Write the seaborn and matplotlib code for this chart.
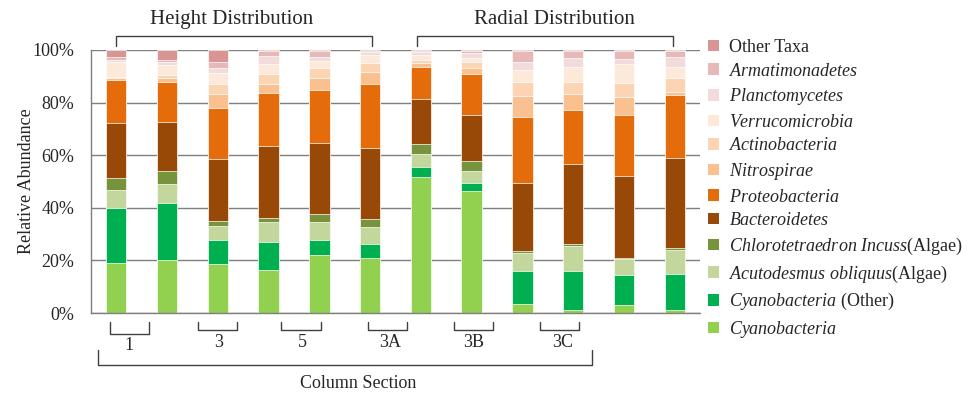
import pandas as pd
import matplotlib.pyplot as plt
import seaborn as sns
from matplotlib.patches import Patch
from matplotlib.transforms import blended_transform_factory

# sample order (two replicate bars per column section)
samples = ['1a', '1b', '3a', '3b', '5a', '5b', '3Aa', '3Ab', '3Ba', '3Bb', '3Ca', '3Cb']
sections = ['1', '3', '5', '3A', '3B', '3C']

# relative abundance (%) per taxon, bottom layer first
cyanobacteria = [19.2, 20.3, 18.7, 16.3, 21.9, 20.8, 51.9, 46.2, 3.5, 1.3, 3.0, 1.0]
cyano_other = [20.8, 21.7, 9.0, 10.7, 5.8, 5.5, 3.7, 3.4, 12.6, 14.6, 11.4, 13.8]
acutodesmus = [6.7, 7.1, 5.5, 7.6, 6.9, 6.5, 4.9, 4.5, 6.6, 9.5, 6.1, 9.1]
chlorotetraedron = [4.8, 5.0, 1.9, 1.7, 3.2, 3.0, 3.9, 3.6, 0.8, 0.9, 0.6, 0.7]
bacteroidetes = [20.9, 18.6, 23.4, 27.2, 27.0, 27.1, 16.9, 17.4, 25.9, 30.4, 31.1, 34.4]
proteobacteria = [16.2, 15.3, 19.3, 20.2, 20.1, 24.1, 12.4, 15.8, 25.0, 20.5, 23.1, 23.7]
nitrospirae = [0.6, 1.2, 5.4, 3.4, 4.3, 4.8, 1.3, 2.1, 8.0, 6.1, 6.7, 1.5]
actinobacteria = [0.7, 1.3, 3.8, 3.7, 3.8, 3.1, 1.2, 2.6, 5.3, 4.7, 5.3, 5.0]
verrucomicrobia = [5.4, 3.8, 4.1, 3.9, 2.9, 3.2, 1.9, 1.2, 4.7, 5.7, 7.3, 4.5]
planctomycetes = [0.9, 1.0, 2.2, 3.0, 1.6, 1.3, 1.0, 1.9, 2.9, 3.1, 2.0, 3.5]
armatimonadetes = [1.0, 0.9, 2.3, 1.8, 2.0, 0.3, 0.5, 1.0, 4.4, 2.9, 3.1, 2.5]
other_taxa = [2.8, 3.8, 4.4, 0.5, 0.5, 0.3, 0.4, 0.3, 0.3, 0.3, 0.3, 0.3]

taxa = ['Cyanobacteria', 'Cyanobacteria (Other)', 'Acutodesmus obliquus', 'Chlorotetraedron Incuss',
        'Bacteroidetes', 'Proteobacteria', 'Nitrospirae', 'Actinobacteria', 'Verrucomicrobia',
        'Planctomycetes', 'Armatimonadetes', 'Other Taxa']
values = [cyanobacteria, cyano_other, acutodesmus, chlorotetraedron, bacteroidetes, proteobacteria,
          nitrospirae, actinobacteria, verrucomicrobia, planctomycetes, armatimonadetes, other_taxa]
colors = ['#92d050', '#00b050', '#c3d69b', '#77933c', '#984807', '#e46c0a',
          '#fac090', '#fbd4b4', '#fde9d9', '#f2dcdb', '#e6b9b8', '#d99594']
labels = [r'$\mathit{Cyanobacteria}$', r'$\mathit{Cyanobacteria}$ (Other)',
          r'$\mathit{Acutodesmus\ obliquus}$(Algae)', r'$\mathit{Chlorotetraedron\ Incuss}$(Algae)',
          r'$\mathit{Bacteroidetes}$', r'$\mathit{Proteobacteria}$', r'$\mathit{Nitrospirae}$',
          r'$\mathit{Actinobacteria}$', r'$\mathit{Verrucomicrobia}$', r'$\mathit{Planctomycetes}$',
          r'$\mathit{Armatimonadetes}$', 'Other Taxa']

# long table with cumulative heights for stacking
df = pd.DataFrame(dict(zip(taxa, values)), index=samples)
cum = df.cumsum(axis=1)
long = cum.reset_index(names='sample').melt(id_vars='sample', var_name='taxon', value_name='top')

sns.set_style('white')
plt.rcParams['font.family'] = ['Liberation Serif', 'DejaVu Serif']
plt.rcParams['mathtext.fontset'] = 'custom'
plt.rcParams['mathtext.rm'] = 'Liberation Serif'
plt.rcParams['mathtext.it'] = 'Liberation Serif:italic'

fig = plt.figure(figsize=(9.75, 4), dpi=100)
ax = fig.add_axes([0.0933, 0.2175, 0.6247, 0.6575])

# draw from the top layer down so each shorter bar covers the one behind
for taxon, color in zip(taxa[::-1], colors[::-1]):
    sns.barplot(data=long[long['taxon'] == taxon], x='sample', y='top', order=samples,
                color=color, saturation=1, width=0.4, edgecolor='white', linewidth=0.5, ax=ax)

ax.set_ylim(0, 100)
ax.set_xlim(-0.5, 11.5)
ax.set_yticks([0, 20, 40, 60, 80, 100])
ax.set_yticklabels([f'{v}%' for v in [0, 20, 40, 60, 80, 100]], fontsize=13)
ax.set_xticks([])
ax.set_xlabel('')
ax.set_ylabel('Relative Abundance', fontsize=13, labelpad=-2)
ax.tick_params(axis='y', length=0, pad=12)
ax.yaxis.grid(True, color='#7f7f7f', linewidth=1)
ax.set_axisbelow(True)
for s in ['top', 'right']:
    ax.spines[s].set_visible(False)
for s in ['left', 'bottom']:
    ax.spines[s].set_color('#7f7f7f')
    ax.spines[s].set_linewidth(1)

tr = blended_transform_factory(ax.transData, ax.transAxes)
lc = '#404040'

def bracket(x0, x1, y_end, y_bar):
    ax.plot([x0, x0, x1, x1], [y_end, y_bar, y_bar, y_end], color=lc, lw=1,
            transform=tr, clip_on=False)

# section brackets under the bars
sec_spans = [(-0.13, 0.64), (1.61, 2.38), (3.24, 4.03), (4.96, 5.73), (6.65, 7.42), (8.35, 9.12)]
sec_label_x = [0.25, 2.02, 3.66, 5.39, 7.03, 8.80]
for i, ((x0, x1), lx, name) in enumerate(zip(sec_spans, sec_label_x, sections)):
    bracket(x0, x1, -0.034, -0.08 if i == 0 else -0.065)
    ax.text(lx, -0.125 if i == 0 else -0.112, name, transform=tr, ha='center', va='center', fontsize=13)

bracket(-0.36, 9.37, -0.141, -0.198)
ax.text(4.76, -0.268, 'Column Section', transform=tr, ha='center', va='center', fontsize=13)

# distribution brackets on top
bracket(0, 5.04, 1.015, 1.053)
bracket(5.92, 10.97, 1.015, 1.053)
ax.text(2.28, 1.116, 'Height Distribution', transform=tr, ha='center', va='center', fontsize=15)
ax.text(8.64, 1.116, 'Radial Distribution', transform=tr, ha='center', va='center', fontsize=15)

handles = [Patch(facecolor=c, edgecolor='none') for c in colors[::-1]]
fig.legend(handles, labels[::-1], loc='upper left', bbox_to_anchor=(0.726, 0.9025),
           frameon=False, fontsize=13, handlelength=0.6, handleheight=0.6,
           handletextpad=0.55, labelspacing=0.365, borderpad=0, borderaxespad=0)

fig.savefig('out.png', dpi=100)
